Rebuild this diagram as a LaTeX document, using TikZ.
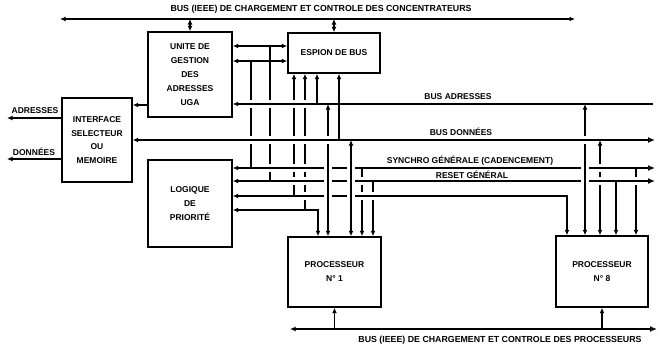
\documentclass[tikz,border=0pt]{standalone}
\usepackage{fontspec}
\setmainfont{Liberation Sans}
\usetikzlibrary{arrows.meta}
\newcommand\mkvgap[1]{\fill[white,shift={(#1)}] (-1.8,-4) rectangle (1.8,4);}
\newcommand\mkhgap[1]{\fill[white,shift={(#1)}] (-4,-1.8) rectangle (4,1.8);}
\begin{document}
\begin{tikzpicture}[x=1pt,y=-1pt,
  line width=1.6pt,
  >={Latex[length=5.5pt,width=4.8pt]},
  box/.style={draw, line width=1.4pt, align=center, inner sep=0pt, font=\fontsize{8.5}{14}\selectfont\bfseries},
  lab/.style={font=\fontsize{8.5}{10}\selectfont\bfseries, inner sep=0pt},
  biglab/.style={font=\fontsize{8.8}{10}\selectfont\bfseries, inner sep=0pt},
  fo/.style={arrows={Latex[length=5.5pt,width=4.8pt]-Latex[open,length=7pt,width=6pt]}},
  ff/.style={arrows={Latex[length=5.5pt,width=4.8pt]-Latex[length=7pt,width=6pt]}},
]
\useasboundingbox (0,0) rectangle (661,348);

% boxes
\node[box, minimum width=84pt, minimum height=85pt] (uga) at (190,74.5) {UNITE DE\\GESTION\\DES\\ADRESSES\\UGA};
\node[box, minimum width=92pt, minimum height=40pt] (esp) at (334,53) {ESPION DE BUS};
\node[box, minimum width=70pt, minimum height=84pt, font=\fontsize{8.5}{13.5}\selectfont\bfseries] (intf) at (97,140) {INTERFACE\\SELECTEUR\\OU\\MEMOIRE};
\node[box, minimum width=84pt, minimum height=87pt] (logi) at (190,203.5) {LOGIQUE\\DE\\PRIORITÉ};
\node[box, minimum width=93pt, minimum height=70pt] (p1) at (334.5,272) {PROCESSEUR\\N° 1};
\node[box, minimum width=92pt, minimum height=71pt] (p8) at (602,271.5) {PROCESSEUR\\N° 8};

% reference coordinates
\coordinate (yl1) at (0,46);
\coordinate (yl2) at (0,61);
\coordinate (yadr) at (0,104);
\coordinate (ydon) at (0,140);
\coordinate (ysy) at (0,168);
\coordinate (yre) at (0,181);
\coordinate (yl3) at (0,196);
\coordinate (yl4) at (0,210);
\coordinate (xa) at (251,0);
\coordinate (xb) at (270,0);
\coordinate (xc) at (294,0);
\coordinate (xd) at (305,0);
\coordinate (xe) at (317,0);
\coordinate (xf) at (339,0);
\coordinate (xg) at (328,0);
\coordinate (xh) at (351,0);
\coordinate (xi) at (362,0);
\coordinate (xj) at (373,0);
\coordinate (xk) at (318,0);
\coordinate (xl) at (567,0);
\coordinate (xm) at (585,0);
\coordinate (xn) at (600,0);
\coordinate (xo) at (616,0);
\coordinate (xp) at (636,0);
\coordinate (tbW) at (60,19);
\coordinate (tbE) at (575,19);
\coordinate (bbW) at (290,329);
\coordinate (bbE) at (657,329);
\coordinate (aE) at (653,104);
\coordinate (dE) at (655,140);
\coordinate (sE) at (655,168);
\coordinate (rE) at (655,181);
\coordinate (adrOut) at (7,118);
\coordinate (donOut) at (7,159);

% top and bottom buses
\draw[<->] (tbW) -- (tbE);
\draw[<->] (uga.north |- tbW) -- (uga.north);
\draw[<->] (esp.north |- tbW) -- (esp.north);
\draw[fo] (bbW) -- (bbE);
\draw[->] (p1.south |- bbW) -- (p1.south);
\draw[->] (p8.south |- bbW) -- (p8.south);

% UGA - ESPION links
\draw[<->] (uga.east |- yl1) -- (esp.west |- yl1);
\draw[<->] (uga.east |- yl2) -- (esp.west |- yl2);

% interface links
\draw[->] (uga.west |- 0,105) -- (intf.east |- 0,105);
\draw[->] (intf.west |- adrOut) -- (adrOut);
\draw[->] (intf.west |- donOut) -- (donOut);

% rank 0 verticals
\draw (xa |- yl2) -- (xa |- ysy);
\draw (xb |- yl1) -- (xb |- yre);
\draw[->] (xc |- yl3) -- (xc |- esp.south);
\draw[->] (xd |- yl4) -- (xd |- esp.south);
\draw[->] (xi |- ysy) -- (xi |- p1.north);
\draw[->] (xj |- yre) -- (xj |- p1.north);
\draw[<->] (xn |- ydon) -- (xn |- p8.north);
\draw[->] (xo |- yre) -- (xo |- p8.north);
\draw[->] (xp |- ysy) -- (xp |- p8.north);
\mkvgap{xa|-yadr}\mkvgap{xa|-ydon}
\mkvgap{xb|-yadr}\mkvgap{xb|-ydon}\mkvgap{xb|-ysy}
\mkvgap{xc|-yadr}\mkvgap{xc|-ydon}\mkvgap{xc|-ysy}\mkvgap{xc|-yre}
\mkvgap{xd|-yadr}\mkvgap{xd|-ydon}\mkvgap{xd|-ysy}\mkvgap{xd|-yre}\mkvgap{xd|-yl3}
\mkvgap{xi|-yre}\mkvgap{xi|-yl3}\mkvgap{xj|-yl3}
\mkvgap{xn|-ysy}\mkvgap{xn|-yre}\mkvgap{xp|-yre}

% rank 1 horizontals from priority logic
\draw[fo] (logi.east |- ysy) -- (sE);
\draw[ff] (logi.east |- yre) -- (rE);
\draw[<->] (logi.east |- yl3) -- (xl |- yl3) -- (xl |- p8.north);
\draw[<->] (logi.east |- yl4) -- (xk |- yl4) -- (xk |- p1.north);
\mkhgap{xg|-ysy}\mkhgap{xh|-ysy}\mkhgap{xm|-ysy}
\mkhgap{xg|-yre}\mkhgap{xh|-yre}\mkhgap{xm|-yre}
\mkhgap{xg|-yl3}\mkhgap{xh|-yl3}

% rank 2 verticals
\draw[<->] (xg |- yadr) -- (xg |- p1.north);
\draw[<->] (xh |- ydon) -- (xh |- p1.north);
\draw[<->] (xm |- yadr) -- (xm |- p8.north);
\mkvgap{xg|-ydon}\mkvgap{xm|-ydon}

% rank 3 buses
\draw[<-] (uga.east |- yadr) -- (aE);
\draw[fo] (intf.east |- ydon) -- (dE);
\draw[->] (xe |- yadr) -- (xe |- esp.south);
\draw[->] (xf |- ydon) -- (xf |- esp.south);

% labels
\node[biglab] (ltop) at (321,9) {BUS (IEEE) DE CHARGEMENT ET CONTROLE DES CONCENTRATEURS};
\node[biglab] (lbot) at (500,340) {BUS (IEEE) DE CHARGEMENT ET CONTROLE DES PROCESSEURS};
\node[lab] (ladr) at (458,97) {BUS ADRESSES};
\node[lab] (ldon) at (461,132) {BUS DONNÉES};
\node[lab] (lsy) at (470,161) {SYNCHRO GÉNÉRALE (CADENCEMENT)};
\node[lab] (lre) at (472,175) {RESET GÉNÉRAL};
\node[lab] (lao) at (35,111) {ADRESSES};
\node[lab] (ldo) at (34,152) {DONNÉES};
\end{tikzpicture}
\end{document}
